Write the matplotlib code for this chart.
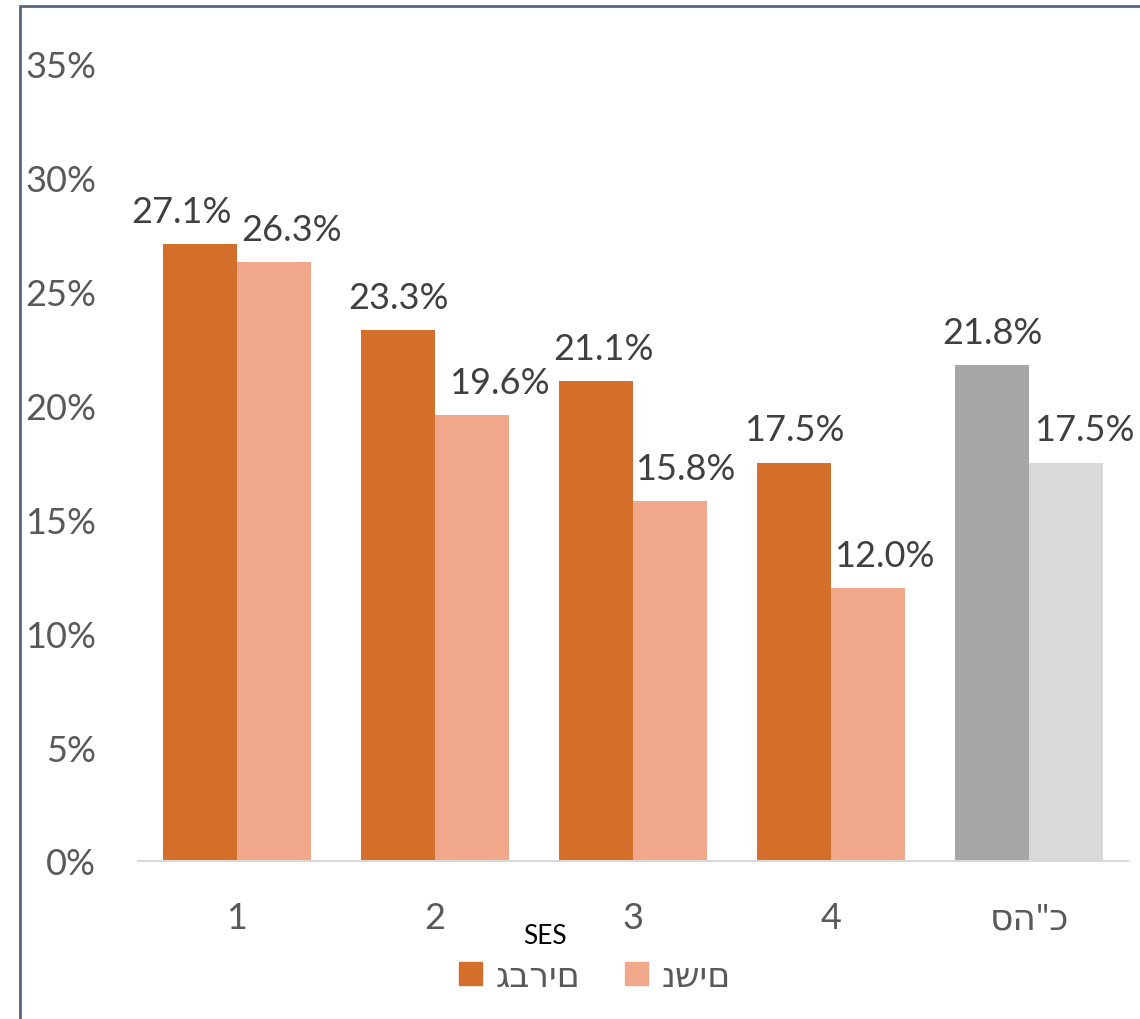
import matplotlib.pyplot as plt
from matplotlib.patches import Patch, Rectangle
import numpy as np

plt.rcParams['font.family'] = ['Lato', 'DejaVu Sans']

categories = ['1', '2', '3', '4', 'סה"כ']
men = [27.1, 23.3, 21.1, 17.5, 21.8]
women = [26.3, 19.6, 15.8, 12.0, 17.5]
series_names = ['גברים', 'נשים']
axis_title = 'SES'

men_colors = ['#D36F2B'] * 4 + ['#A6A6A6']
women_colors = ['#F0A78A'] * 4 + ['#D9D9D9']
# label nudges in pixels (the original has a few labels pushed sideways)
men_dx = [-19, 0, 7, 0, 0]
women_dx = [18, 28, 15, 16, 18]

fig = plt.figure(figsize=(11.4, 10.2), dpi=100)
ax = fig.add_axes([138 / 1140, 158 / 1020, 990 / 1140, 797 / 1020])

x = np.arange(len(categories))
w = 0.372
ax.bar(x - w / 2, men, w, color=men_colors)
ax.bar(x + w / 2, women, w, color=women_colors)

for i in range(len(categories)):
    ax.annotate(f'{men[i]:.1f}%', (x[i] - w / 2, men[i]), xytext=(men_dx[i], 22),
                textcoords='offset pixels', ha='center', va='baseline',
                fontsize=26, color='#404040')
    ax.annotate(f'{women[i]:.1f}%', (x[i] + w / 2, women[i]), xytext=(women_dx[i], 22),
                textcoords='offset pixels', ha='center', va='baseline',
                fontsize=26, color='#404040')

ax.set_xlim(-0.5, len(categories) - 0.5)
ax.set_ylim(0, 35)
ax.set_yticks(range(0, 36, 5))
ax.set_yticklabels([f'{v}%' for v in range(0, 36, 5)])
ax.set_xticks(x)
ax.set_xticklabels(categories)
ax.tick_params(axis='both', length=0, labelsize=26, colors='#595959')
ax.tick_params(axis='y', pad=30)
ax.tick_params(axis='x', pad=29)
for s in ['top', 'right', 'left']:
    ax.spines[s].set_visible(False)
ax.spines['bottom'].set_color('#D9D9D9')
ax.spines['bottom'].set_linewidth(1.5)

fig.text(545 / 1140, 83 / 1020, axis_title, ha='center', va='center', fontsize=19, color='black')

handles = [Patch(color=men_colors[0]), Patch(color=women_colors[0])]
fig.legend(handles, series_names, loc='center', bbox_to_anchor=(595 / 1140, 43 / 1020),
           ncol=2, frameon=False, fontsize=25, labelcolor='#595959',
           handlelength=0.65, handleheight=0.65, handletextpad=0.4, columnspacing=1.3)

fig.patches.append(Rectangle((20 / 1140, -0.1), 1.2, 1.1 - 7 / 1020, transform=fig.transFigure,
                             fill=False, edgecolor='#56657E', linewidth=2))

fig.savefig('out.png', dpi=100)
